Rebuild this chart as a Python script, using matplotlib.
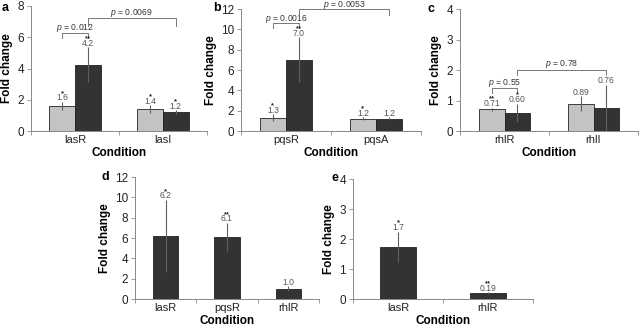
import matplotlib
matplotlib.use("Agg")
import matplotlib.pyplot as plt
import numpy as np

plt.rcParams['font.family'] = ['Liberation Sans', 'DejaVu Sans']
plt.rcParams['mathtext.fontset'] = 'custom'
plt.rcParams['mathtext.it'] = 'Liberation Sans:italic'
plt.rcParams['mathtext.rm'] = 'Liberation Sans'

# ---- data ----
a_categories = ['lasR', 'lasI']
a_light = [1.6, 1.4]
a_light_err = [0.27, 0.26]
a_light_stars = ['*', '*']
a_dark = [4.25, 1.2]
a_dark_err = [1.1, 0.12]
a_dark_stars = ['**', '*']
a_light_labels = ['1.6', '1.4']
a_dark_labels = ['4.2', '1.2']

b_categories = ['pqsR', 'pqsA']
b_light = [1.3, 1.2]
b_light_err = [0.33, 0.15]
b_light_stars = ['*', '*']
b_dark = [7.0, 1.2]
b_dark_err = [2.2, 0.15]
b_dark_stars = ['**', '']
b_light_labels = ['1.3', '1.2']
b_dark_labels = ['7.0', '1.2']

c_categories = ['rhlR', 'rhlI']
c_light = [0.71, 0.89]
c_light_err = [0.06, 0.25]
c_light_stars = ['**', '']
c_dark = [0.60, 0.76]
c_dark_err = [0.3, 0.76]
c_dark_stars = ['*', '']
c_light_labels = ['0.71', '0.89']
c_dark_labels = ['0.60', '0.76']

d_categories = ['lasR', 'pqsR', 'rhlR']
d_values = [6.2, 6.1, 1.0]
d_err = [3.55, 1.4, 0.25]
d_stars = ['*', '**', '']
d_labels = ['6.2', '6.1', '1.0']

e_categories = ['lasR', 'rhlR']
e_values = [1.75, 0.19]
e_err = [0.5, 0.03]
e_stars = ['*', '**']
e_labels = ['1.7', '0.19']

LIGHT = '#c3c3c3'
DARK = '#333333'
ERRC = '#606060'
TXT = '#555555'

fig = plt.figure(figsize=(6.4, 3.29), dpi=100)


def setup(ax, cats, ylim, yticks):
    n = len(cats)
    ax.set_xlim(-0.5, n - 0.5)
    ax.set_ylim(0, ylim)
    ax.set_yticks(yticks)
    ax.set_xticks(range(n))
    ax.set_xticklabels(cats)
    ax.set_xticks(np.arange(-0.5, n, 1.0), minor=True)
    ax.tick_params(axis='x', which='major', length=0, labelsize=8, pad=3, colors='#222222')
    ax.tick_params(axis='x', which='minor', length=3, width=0.6, color='#888888')
    ax.tick_params(axis='y', length=3, width=0.6, color='#888888', labelsize=8.5, pad=2, labelcolor='#222222')
    for s in ['top', 'right']:
        ax.spines[s].set_visible(False)
    for s in ['left', 'bottom']:
        ax.spines[s].set_color('#888888')
        ax.spines[s].set_linewidth(0.7)
    ax.set_ylabel('Fold change', fontsize=8.5, fontweight='bold', labelpad=3)
    ax.set_xlabel('Condition', fontsize=8.5, fontweight='bold', labelpad=1)


def letter(x_px, y_px, s):
    fig.text(x_px / 640, 1 - y_px / 329, s, fontsize=9, fontweight='bold',
             ha='left', va='center')


def bars(ax, x, vals, errs, color, labels, stars, width):
    ax.bar(x, vals, width=width, color=color, edgecolor='#222222', linewidth=0.6, zorder=2)
    ax.errorbar(x, vals, yerr=errs, fmt='none', ecolor=ERRC, elinewidth=0.8, capsize=0, zorder=3)
    for xi, v, e, lab, st in zip(x, vals, errs, labels, stars):
        top = v + e
        ax.annotate(lab, (xi, top), xytext=(0, 1.0), textcoords='offset points',
                    ha='center', va='baseline', fontsize=6.2, color=TXT, zorder=4)
        if st:
            ax.annotate(st, (xi, top), xytext=(0, 5.0), textcoords='offset points',
                        ha='center', va='baseline', fontsize=5.5, color='#222222',
                        fontweight='bold', zorder=4)


def bracket(ax, x1, x2, ytop, yleg, text, ytext):
    ax.plot([x1, x1, x2, x2], [yleg, ytop, ytop, yleg], color='#777777', lw=0.7,
            clip_on=False, zorder=3)
    ax.text((x1 + x2) / 2, ytext, text, ha='center', va='center', fontsize=6.2,
            color='#333333', clip_on=False)


W = 0.29

# panel a
axa = fig.add_axes([31 / 640, 1 - 131 / 329, 176 / 640, 125 / 329])
setup(axa, a_categories, 8, range(0, 9, 2))
xa = np.arange(len(a_categories))
bars(axa, xa - W / 2, a_light, a_light_err, LIGHT, a_light_labels, a_light_stars, W)
bars(axa, xa + W / 2, a_dark, a_dark_err, DARK, a_dark_labels, a_dark_stars, W)
bracket(axa, xa[0] - W / 2, xa[0] + W / 2, 6.3, 5.95, r'$p$ = 0.012', 6.62)
bracket(axa, xa[0] + W / 2, xa[1] + W / 2, 7.25, 6.7, r'$p$ = 0.0069', 7.58)
letter(2, 8, 'a')

# panel b
axb = fig.add_axes([241 / 640, 1 - 131 / 329, 180 / 640, 122 / 329])
setup(axb, b_categories, 12, range(0, 13, 2))
xb = np.arange(len(b_categories))
bars(axb, xb - W / 2, b_light, b_light_err, LIGHT, b_light_labels, b_light_stars, W)
bars(axb, xb + W / 2, b_dark, b_dark_err, DARK, b_dark_labels, b_dark_stars, W)
bracket(axb, xb[0] - W / 2, xb[0] + W / 2, 10.6, 10.1, r'$p$ = 0.0016', 11.0)
bracket(axb, xb[0] + W / 2, xb[1] + W / 2, 12.0, 11.4, r'$p$ = 0.0053', 12.4)
letter(213, 8, 'b')

# panel c
axc = fig.add_axes([460 / 640, 1 - 131 / 329, 178 / 640, 122 / 329])
setup(axc, c_categories, 4, range(0, 5))
xc = np.arange(len(c_categories))
bars(axc, xc - W / 2, c_light, c_light_err, LIGHT, c_light_labels, c_light_stars, W)
bars(axc, xc + W / 2, c_dark, c_dark_err, DARK, c_dark_labels, c_dark_stars, W)
bracket(axc, xc[0] - W / 2, xc[0] + W / 2, 1.41, 1.25, r'$p$ = 0.55', 1.58)
bracket(axc, xc[0] + W / 2, xc[1] + W / 2, 2.0, 1.83, r'$p$ = 0.78', 2.2)
letter(427, 9, 'c')

# panel d
axd = fig.add_axes([135 / 640, 1 - 299 / 329, 184 / 640, 122 / 329])
setup(axd, d_categories, 12, range(0, 13, 2))
xd = np.arange(len(d_categories))
bars(axd, xd, d_values, d_err, DARK, d_labels, d_stars, 0.41)
letter(102, 177, 'd')

# panel e
axe = fig.add_axes([353 / 640, 1 - 299 / 329, 180 / 640, 120 / 329])
setup(axe, e_categories, 4, range(0, 5))
xe = np.arange(len(e_categories))
bars(axe, xe, e_values, e_err, DARK, e_labels, e_stars, 0.4)
letter(331, 178, 'e')

fig.savefig('out.png', dpi=100)
